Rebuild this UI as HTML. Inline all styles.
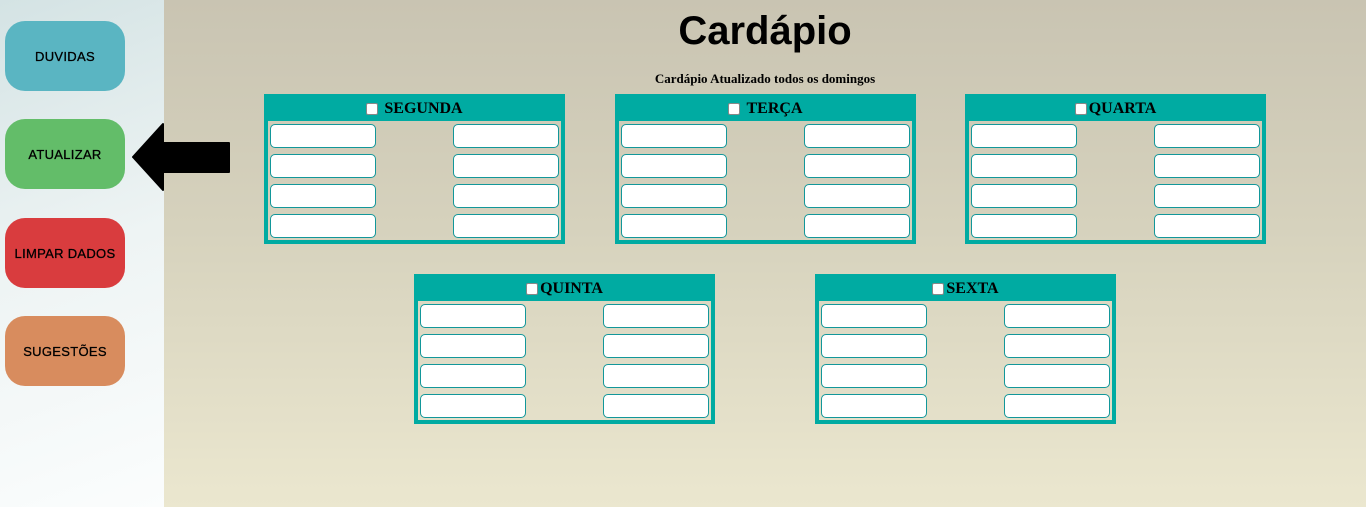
<!DOCTYPE html>
<html><head><meta charset="utf-8"><style>
*{margin:0;padding:0;box-sizing:border-box}
body{width:1366px;height:507px;overflow:hidden;position:relative;background:linear-gradient(180deg,#c9c4b2 0%,#d6d2bd 45%,#ebe7cf 100%);font-family:"Liberation Sans",sans-serif}
.side{position:absolute;left:0;top:0;width:164px;height:507px;background:linear-gradient(160deg,#d4e3e4 0%,#eef4f4 50%,#fbfdfd 100%)}
.btn{position:absolute;left:5px;width:120px;height:70px;border-radius:20px;display:flex;align-items:center;justify-content:center;font-size:13px;color:#000;letter-spacing:.3px;-webkit-text-stroke:.3px #000}
h1{position:absolute;left:0;width:1530px;top:9px;text-align:center;font-size:40px;font-weight:bold;color:#000}
.sub{position:absolute;left:0;width:1530px;top:71px;text-align:center;font:bold 13px "Liberation Serif",serif}
.p{position:absolute;width:301px;height:150px;border:4px solid #00aba2;border-top:none}
.hd{height:27px;background:#00aba2;margin:0 -4px;display:flex;align-items:center;justify-content:center;font:bold 16px "Liberation Serif",serif;color:#000;padding-top:2px}
.cb{width:12px;height:12px;background:#fff;border:1px solid #888;border-radius:2px;margin-right:2px}
.i{position:absolute;width:106px;height:24px;background:#fff;border:1px solid #12979a;border-radius:5px}
</style></head><body>
<div class="side"></div>
<div class="btn" style="top:21px;background:#5ab5c2">DUVIDAS</div>
<div class="btn" style="top:119px;background:#63bd69">ATUALIZAR</div>
<div class="btn" style="top:218px;background:#d93c3e">LIMPAR DADOS</div>
<div class="btn" style="top:316px;background:#d88c5e">SUGESTÕES</div>
<svg style="position:absolute;left:130px;top:120px" width="105" height="75"><polygon points="3,37 33,4 33,23 99,23 99,52 33,52 33,70" fill="#000" stroke="#000" stroke-width="2" stroke-linejoin="round"/></svg>
<h1>Cardápio</h1>
<div class="sub">Cardápio Atualizado todos os domingos</div>
<div id="w"></div>
<script>
var P=[[264,94,"SEGUNDA",1],[615,94,"TERÇA",1],[965,94,"QUARTA",0],[414,274,"QUINTA",0],[815,274,"SEXTA",0]],h="";
P.forEach(function(p){h+='<div class="p" style="left:'+p[0]+'px;top:'+p[1]+'px"><div class="hd"><span class="cb"></span>'+(p[3]?'&nbsp;':'')+p[2]+'</div></div>';
for(var r=0;r<4;r++){h+='<div class="i" style="left:'+(p[0]+6)+'px;top:'+(p[1]+30+r*30)+'px"></div><div class="i" style="left:'+(p[0]+189)+'px;top:'+(p[1]+30+r*30)+'px"></div>';}});
document.getElementById('w').innerHTML=h;
</script>
</body></html>
